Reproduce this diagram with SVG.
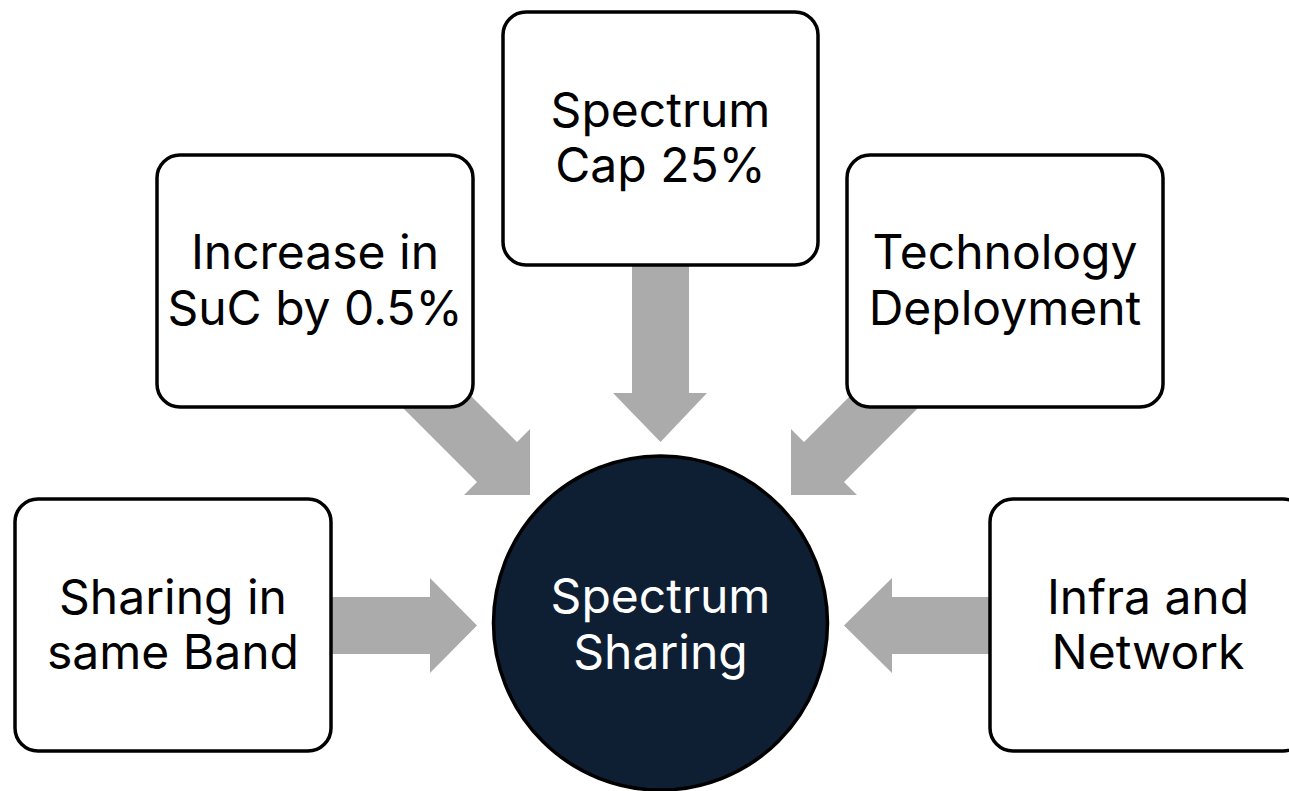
<svg xmlns="http://www.w3.org/2000/svg" width="1289" height="791" viewBox="0 0 1289 791">
<style>
.box{fill:#ffffff;stroke:#000000;stroke-width:3.5}
.arrow{fill:#ababab;stroke:none}
.t{font-family:Inter,"Liberation Sans",sans-serif;font-size:48px;fill:#000000;text-anchor:middle}
.tw{font-family:Inter,"Liberation Sans",sans-serif;font-size:48px;fill:#ffffff;text-anchor:middle}
</style>
<rect x="0" y="0" width="1289" height="791" fill="#ffffff"/>
<g id="connectors">
<polygon class="arrow" points="632,250 689,250 689,393 707,393 660.5,442 613,393 632,393"/>
<polygon class="arrow" points="437,362 517,442 530,429 530,495 464,495 477,482 397,402"/>
<polygon class="arrow" points="884,362 804,442 791,429 791,495 857,495 844,482 924,402"/>
<polygon class="arrow" points="320,597 430,597 430,578 477,625.5 430,673 430,654 320,654"/>
<polygon class="arrow" points="1000,597 892,597 892,578 844,625.5 892,673 892,654 1000,654"/>
</g>
<g id="node-spectrum-cap">
<rect class="box" x="503" y="12" width="315" height="253" rx="23"/>
<text class="t" x="660.5" y="127">Spectrum</text>
<text class="t" x="660.5" y="182">Cap 25%</text>
</g>
<g id="node-increase-suc">
<rect class="box" x="157" y="155" width="316" height="252" rx="23"/>
<text class="t" x="315" y="269">Increase in</text>
<text class="t" x="315" y="325">SuC by 0.5%</text>
</g>
<g id="node-technology">
<rect class="box" x="847" y="155" width="316" height="252" rx="23"/>
<text class="t" x="1005" y="269">Technology</text>
<text class="t" x="1005" y="325">Deployment</text>
</g>
<g id="node-sharing-band">
<rect class="box" x="15" y="499" width="316" height="252" rx="23"/>
<text class="t" x="173" y="614">Sharing in</text>
<text class="t" x="173" y="669">same Band</text>
</g>
<g id="node-infra">
<rect class="box" x="990" y="499" width="316" height="252" rx="23"/>
<text class="t" x="1148" y="614">Infra and</text>
<text class="t" x="1148" y="669">Network</text>
</g>
<g id="node-center">
<circle cx="660.5" cy="623" r="167" fill="#0e1f34" stroke="#000000" stroke-width="3.5"/>
<text class="tw" x="660.5" y="613">Spectrum</text>
<text class="tw" x="660.5" y="669">Sharing</text>
</g>
</svg>
